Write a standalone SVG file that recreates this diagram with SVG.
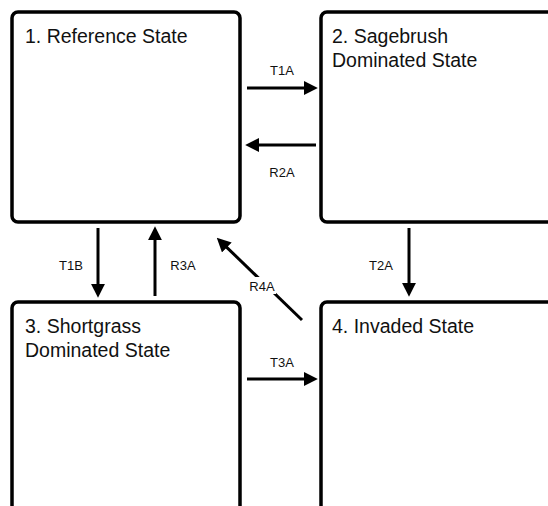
<svg xmlns="http://www.w3.org/2000/svg" width="548" height="506" viewBox="0 0 548 506">
<style>
.box{fill:#fff;stroke:#000;stroke-width:3.5}
.t{font-family:"Liberation Sans",Arial,sans-serif;font-size:19.5px;fill:#111}
.l{font-family:"Liberation Sans",Arial,sans-serif;font-size:13px;fill:#111;text-anchor:middle}
.c{stroke:#000;stroke-width:3;fill:none;marker-end:url(#ah)}
</style>
<defs>
<marker id="ah" markerUnits="userSpaceOnUse" markerWidth="14" markerHeight="14" refX="1" refY="6" orient="auto" viewBox="0 0 12 12">
<path d="M0,0 L12,6 L0,12 z" fill="#000"/>
</marker>
</defs>
<rect width="548" height="506" fill="#fff"/>
<g id="node1"><rect class="box" x="12" y="12" width="228" height="210" rx="6"/><text class="t" x="25" y="43">1. Reference State</text></g>
<g id="node2"><rect class="box" x="321" y="12" width="250" height="210" rx="6"/><text class="t" x="332" y="43">2. Sagebrush</text><text class="t" x="332" y="67">Dominated State</text></g>
<g id="node3"><rect class="box" x="12" y="302" width="228" height="250" rx="6"/><text class="t" x="25" y="333">3. Shortgrass</text><text class="t" x="25" y="357">Dominated State</text></g>
<g id="node4"><rect class="box" x="321" y="302" width="250" height="250" rx="6"/><text class="t" x="332" y="333">4. Invaded State</text></g>
<g id="connectors">
<line class="c" x1="247" y1="88" x2="305" y2="88"/>
<text class="l" x="282" y="75">T1A</text>
<line class="c" x1="316" y1="145" x2="258" y2="145"/>
<text class="l" x="282" y="177">R2A</text>
<line class="c" x1="98" y1="228" x2="98" y2="285"/>
<text class="l" x="71" y="270">T1B</text>
<line class="c" x1="155" y1="296" x2="155" y2="239"/>
<text class="l" x="183" y="270">R3A</text>
<line class="c" x1="409" y1="228" x2="409" y2="284"/>
<text class="l" x="381" y="270">T2A</text>
<line class="c" x1="247" y1="379" x2="305" y2="379"/>
<text class="l" x="282" y="367">T3A</text>
<line class="c" x1="302" y1="320" x2="226" y2="246.6"/>
<rect x="248" y="277" width="28" height="17" fill="#fff"/>
<text class="l" x="262" y="291">R4A</text>
</g>
</svg>
